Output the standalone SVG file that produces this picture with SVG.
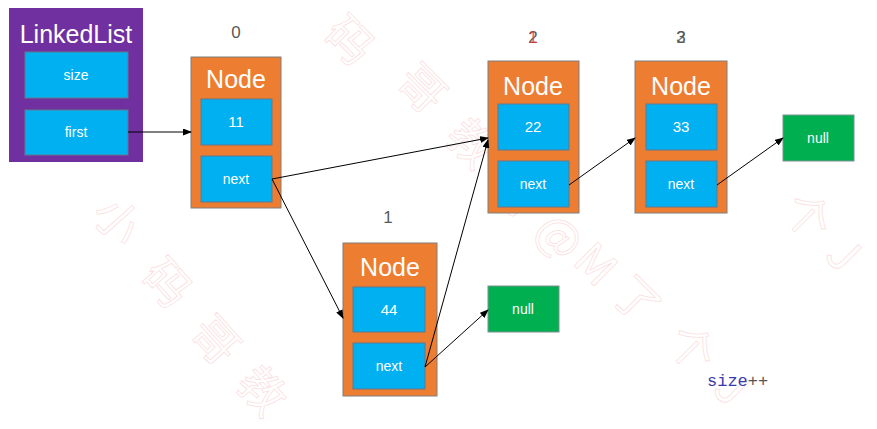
<svg xmlns="http://www.w3.org/2000/svg" width="877" height="429" viewBox="0 0 877 429">
<defs>
<marker id="arr" markerWidth="9" markerHeight="7" refX="8" refY="3.5" orient="auto" markerUnits="userSpaceOnUse"><path d="M0,0 L9,3.5 L0,7 z" fill="#000"/></marker>
<style>
.wm{font-family:"Noto Sans CJK SC","Noto Sans",sans-serif;font-size:46px;fill:none;stroke:#f2a6a6;stroke-width:0.8;opacity:0.35;text-anchor:middle}
.list{fill:#7030A0}
.node{fill:#ED7D31;stroke:#7f7f7f;stroke-width:1}
.field{fill:#00B0F0;stroke:#64788c;stroke-width:1}
.nul{fill:#00B050;stroke:#7f8f8f;stroke-width:1}
.title{font-family:"Liberation Sans",Arial,sans-serif;fill:#fff;text-anchor:middle}
.big{font-size:25px}
.sm{font-family:"Liberation Sans",Arial,sans-serif;font-size:14px;fill:#fff;text-anchor:middle}
.num{font-family:"Liberation Sans",Arial,sans-serif;font-size:15px;fill:#fff;text-anchor:middle}
.idx{font-family:"Liberation Sans",Arial,sans-serif;font-size:17px;fill:#595959;text-anchor:middle}
.edge{stroke:#000;stroke-width:1;fill:none;marker-end:url(#arr)}
</style>
</defs>
<rect width="877" height="429" fill="#fff"/>
<g id="watermark">
<text class="wm" transform="translate(105,232) rotate(48)">小</text>
<text class="wm" transform="translate(155,294) rotate(48)">码</text>
<text class="wm" transform="translate(203,351) rotate(48)">哥</text>
<text class="wm" transform="translate(250,402) rotate(48)">教</text>
<text class="wm" transform="translate(338,52) rotate(45)">码</text>
<text class="wm" transform="translate(410,100) rotate(45)">哥</text>
<text class="wm" transform="translate(460,155) rotate(45)">教</text>
<text class="wm" transform="translate(505,205) rotate(45)">育</text>
<text class="wm" transform="translate(548,248) rotate(45)">@</text>
<text class="wm" transform="translate(584,276) rotate(45)">M</text>
<text class="wm" transform="translate(625,312) rotate(45)">了</text>
<text class="wm" transform="translate(680,360) rotate(45)">个</text>
<text class="wm" transform="translate(720,400) rotate(45)">J</text>
<text class="wm" transform="translate(796,228) rotate(45)">个</text>
<text class="wm" transform="translate(832,266) rotate(45)">J</text>
</g>
<g id="linkedlist">
<rect class="list" x="9" y="8" width="134" height="154"/>
<text class="title big" x="76" y="43">LinkedList</text>
<rect class="field" x="25" y="52" width="103" height="46"/>
<text class="sm" x="76" y="80">size</text>
<rect class="field" x="25" y="110" width="103" height="45"/>
<text class="sm" x="76" y="137">first</text>
</g>
<g id="node0">
<text class="idx" x="236" y="38">0</text>
<rect class="node" x="191" y="57" width="90" height="151"/>
<text class="title big" x="236" y="88">Node</text>
<rect class="field" x="201" y="99" width="71" height="46"/>
<text class="num" x="236" y="127">11</text>
<rect class="field" x="201" y="156" width="71" height="46"/>
<text class="sm" x="236" y="184">next</text>
</g>
<g id="node1">
<text class="idx" x="388" y="223">1</text>
<rect class="node" x="343" y="243" width="94" height="153"/>
<text class="title big" x="390" y="276">Node</text>
<rect class="field" x="353" y="287" width="72" height="45"/>
<text class="num" x="389" y="315">44</text>
<rect class="field" x="353" y="343" width="72" height="46"/>
<text class="sm" x="389" y="371">next</text>
</g>
<g id="node2">
<text class="idx" x="533" y="43">2</text>
<text class="idx" x="533" y="43" style="fill:#e03c3c" opacity="0.8">1</text>
<rect class="node" x="488" y="61" width="91" height="152"/>
<text class="title big" x="533" y="95">Node</text>
<rect class="field" x="498" y="104" width="71" height="46"/>
<text class="num" x="533" y="132">22</text>
<rect class="field" x="498" y="161" width="71" height="46"/>
<text class="sm" x="533" y="189">next</text>
</g>
<g id="node3">
<text class="idx" x="681" y="43">3</text>
<text class="idx" x="681" y="43" opacity="0.8">2</text>
<rect class="node" x="635" y="61" width="92" height="152"/>
<text class="title big" x="681" y="95">Node</text>
<rect class="field" x="646" y="104" width="71" height="46"/>
<text class="num" x="681" y="132">33</text>
<rect class="field" x="646" y="161" width="71" height="46"/>
<text class="sm" x="681" y="189">next</text>
</g>
<g id="nullRight">
<rect class="nul" x="783" y="115" width="71" height="46"/>
<text class="sm" x="818" y="143">null</text>
</g>
<g id="nullBottom">
<rect class="nul" x="488" y="286" width="71" height="46"/>
<text class="sm" x="523" y="314">null</text>
</g>
<g id="code">
<text x="707" y="386" style="font-family:'Liberation Mono','DejaVu Sans Mono',monospace;font-size:17px"><tspan fill="#3a3ab0">size</tspan><tspan fill="#555">++</tspan></text>
</g>
<g id="connectors">
<line class="edge" x1="128" y1="132" x2="191" y2="132"/>
<line class="edge" x1="272" y1="179" x2="488" y2="138"/>
<line class="edge" x1="272" y1="179" x2="343" y2="318"/>
<line class="edge" x1="425" y1="367" x2="488" y2="140"/>
<line class="edge" x1="425" y1="367" x2="488" y2="310"/>
<line class="edge" x1="569" y1="185" x2="635" y2="138"/>
<line class="edge" x1="717" y1="185" x2="783" y2="138"/>
</g>
</svg>
